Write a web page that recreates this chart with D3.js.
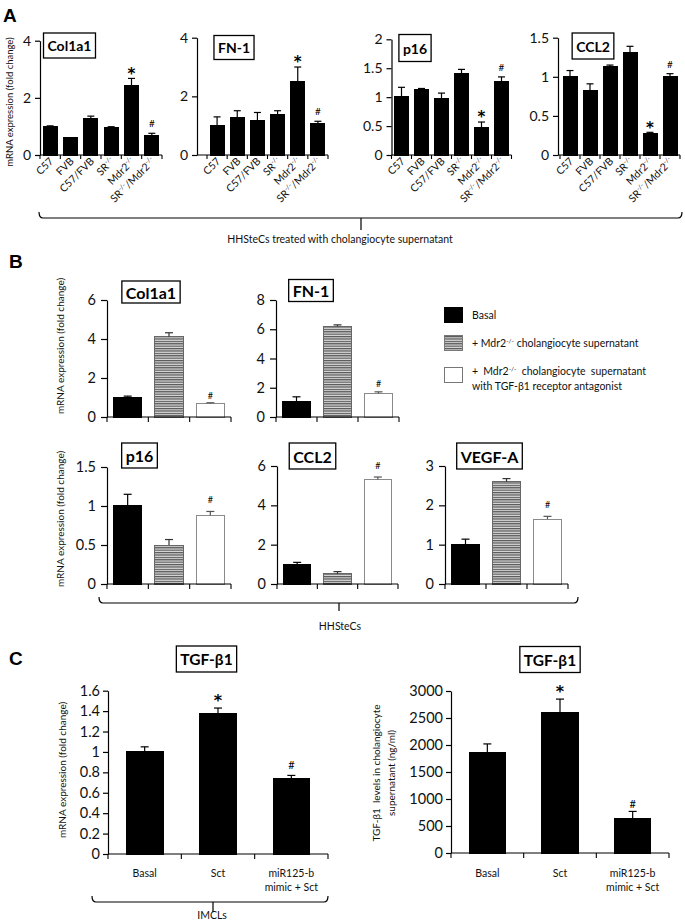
<!DOCTYPE html>
<html><head><meta charset="utf-8">
<script src="https://cdn.jsdelivr.net/npm/d3@7"></script>
<style>body{margin:0;background:#fff}svg{display:block}</style>
</head><body>
<svg id="c" width="685" height="922"></svg>
<script>
// ===== DATA =====
// Panel A: HHSteCs treated with cholangiocyte supernatant
const strainsA = ["C57","FVB","C57/FVB","SR-/-","Mdr2-/-","SR-/-/Mdr2-/-"];
const marksA   = ["","","","","*","#"];
const col1a1A    = [0.99, 0.60, 1.28, 0.95, 2.42, 0.67];
const col1a1AErr = [0.03, 0.01, 0.08, 0.04, 0.26, 0.09];
const fn1A       = [1.00, 1.27, 1.17, 1.38, 2.52, 1.07];
const fn1AErr    = [0.30, 0.24, 0.28, 0.13, 0.48, 0.08];
const p16A       = [1.01, 1.13, 0.97, 1.41, 0.48, 1.27];
const p16AErr    = [0.16, 0.02, 0.10, 0.07, 0.09, 0.08];
const ccl2A      = [1.00, 0.82, 1.13, 1.31, 0.27, 1.00];
const ccl2AErr   = [0.08, 0.09, 0.02, 0.08, 0.02, 0.04];
const ticksCol1a1A = [0, 2, 4];
const ticksFn1A    = [0, 2, 4];
const ticksP16A    = [0, 0.5, 1, 1.5, 2];
const ticksCcl2A   = [0, 0.5, 1, 1.5];

// Panel B: HHSteCs
const treatmentsB = ["Basal", "+ Mdr2-/- cholangiocyte supernatant", "+ Mdr2-/- cholangiocyte supernatant with TGF-β1 receptor antagonist"];
const marksB   = ["","","#"];
const col1a1B    = [1.00, 4.12, 0.71];
const col1a1BErr = [0.07, 0.20, 0.02];
const fn1B       = [1.05, 6.20, 1.60];
const fn1BErr    = [0.33, 0.10, 0.12];
const p16B       = [1.01, 0.50, 0.88];
const p16BErr    = [0.14, 0.07, 0.05];
const ccl2B      = [1.00, 0.52, 5.31];
const ccl2BErr   = [0.10, 0.11, 0.13];
const vegfaB     = [1.00, 2.60, 1.65];
const vegfaBErr  = [0.14, 0.08, 0.07];
const ticksCol1a1B = [0, 2, 4, 6];
const ticksFn1B    = [0, 2, 4, 6, 8];
const ticksP16B    = [0, 0.5, 1, 1.5];
const ticksCcl2B   = [0, 2, 4, 6];
const ticksVegfaB  = [0, 1, 2, 3];

// Panel C: IMCLs, TGF-β1
const groupsC = ["Basal", "Sct", "miR125-b mimic + Sct"];
const groupLinesC = [["Basal"], ["Sct"], ["miR125-b", "mimic + Sct"]];
const marksC = ["", "*", "#"];
const tgfMrnaC    = [1.00, 1.38, 0.74];
const tgfMrnaCErr = [0.05, 0.05, 0.03];
const tgfLevelC    = [1870, 2610, 645];
const tgfLevelCErr = [150, 240, 125];
const ticksMrnaC  = [0, 0.2, 0.4, 0.6, 0.8, 1, 1.2, 1.4, 1.6];
const ticksLevelC = [0, 500, 1000, 1500, 2000, 2500, 3000];

// ===== DRAWING =====
const FONT = "Lato, 'Open Sans', sans-serif";
const svg = d3.select("#c");
const defs = svg.append("defs");
const pat = defs.append("pattern").attr("id","stripes").attr("patternUnits","userSpaceOnUse")
  .attr("width",4).attr("height",2.4);
pat.append("rect").attr("width",4).attr("height",2.4).attr("fill","#dcdcdc");
pat.append("rect").attr("width",4).attr("height",1.2).attr("fill","#555");

function supText(sel, str, size){
  const parts = str.split(/(-\/-)/).filter(s => s !== "");
  let shifted = false;
  parts.forEach(p => {
    if (p === "-/-") {
      sel.append("tspan").attr("dy", -size*0.4).attr("font-size", size*0.62).text(p);
      shifted = true;
    } else {
      const t = sel.append("tspan").attr("font-size", size).text(p);
      if (shifted) { t.attr("dy", size*0.4); shifted = false; }
    }
  });
}

function titleBox(label, cx, cy, fs, h){
  const g = svg.append("g");
  const t = g.append("text").attr("x",cx).attr("y",cy).attr("text-anchor","middle")
    .attr("dominant-baseline","central").attr("font-family",FONT).attr("font-weight","bold")
    .attr("font-size",fs).attr("fill","#000").text(label);
  const w = t.node().getComputedTextLength() + 8;
  g.insert("rect","text").attr("x",cx-w/2).attr("y",cy-h/2).attr("width",w).attr("height",h)
    .attr("fill","#fff").attr("stroke","#000").attr("stroke-width",1.3);
}

function drawChart(o){
  const g = svg.append("g");
  const y = d3.scaleLinear().domain([0,o.ymax]).range([o.y0,o.y1]);
  const x = d3.scaleBand().domain(o.cats).range(o.xr).paddingInner(o.pad).paddingOuter(o.pad/2);
  const step = x.step();
  g.selectAll("rect.bar").data(o.vals).join("rect").attr("class","bar")
    .attr("x",(d,i)=>x(o.cats[i])).attr("width",x.bandwidth())
    .attr("y",d=>y(d)).attr("height",d=>o.y0-y(d))
    .attr("fill",(d,i)=>o.fills[i]).attr("stroke",(d,i)=>o.strokes[i]).attr("stroke-width",1)
    .attr("shape-rendering","crispEdges");
  const cw = o.capW;
  o.vals.forEach((v,i)=>{
    const cx = x(o.cats[i]) + x.bandwidth()/2;
    const col = o.errCol ? o.errCol[i] : "#000";
    g.append("line").attr("x1",cx).attr("x2",cx).attr("y1",y(v)).attr("y2",y(v+o.errs[i])).attr("stroke",col).attr("stroke-width",1.2);
    g.append("line").attr("x1",cx-cw/2).attr("x2",cx+cw/2).attr("y1",y(v+o.errs[i])).attr("y2",y(v+o.errs[i])).attr("stroke",col).attr("stroke-width",1.2);
    const m = o.marks[i];
    if (m) {
      const top = y(v+o.errs[i]);
      const fs = m === "*" ? o.starFs : o.hashFs;
      const yy = m === "*" ? top - o.starGap + fs*0.12 : top - o.hashGap;
      g.append("text").attr("x",cx).attr("y",yy).attr("text-anchor","middle")
        .attr("font-family", m==="*" ? "'DejaVu Sans', sans-serif" : FONT)
        .attr("font-weight", m==="*"?"bold":"normal").attr("fill","#000")
        .attr("font-size",fs).text(m);
    }
  });
  const ya = d3.axisLeft(y).tickValues(o.ticks).tickSize(o.tickLen).tickSizeOuter(0).tickPadding(o.tickPad)
    .tickFormat(d => String(d));
  const yg = g.append("g").attr("transform",`translate(${o.ax},0)`).call(ya);
  yg.select(".domain").attr("stroke","#000").attr("stroke-width",1.2);
  yg.selectAll(".tick line").attr("stroke","#000").attr("stroke-width",1.2);
  yg.selectAll(".tick text").attr("font-family",FONT).attr("font-size",o.tickFs).attr("fill","#111");
  g.append("line").attr("x1",o.ax).attr("x2",o.xr[1]).attr("y1",o.y0).attr("y2",o.y0)
    .attr("stroke","#000").attr("stroke-width",1.2);
  const bounds = o.cats.map(c => x(c) - step*o.pad/2).concat([o.xr[1]]);
  g.selectAll("line.xt").data(bounds).join("line").attr("class","xt")
    .attr("x1",d=>d).attr("x2",d=>d).attr("y1",o.y0).attr("y2",o.y0+o.xTick)
    .attr("stroke","#000").attr("stroke-width",1.1);
  if (o.rotLabels) {
    o.cats.forEach((c,i)=>{
      const cx = x(c) + x.bandwidth()/2;
      const t = g.append("text").attr("transform",`translate(${cx+4},${o.y0+7}) rotate(-45)`)
        .attr("text-anchor","end").attr("font-family",FONT).attr("fill","#111");
      supText(t, c, o.labFs);
    });
  }
  if (o.lines) {
    o.cats.forEach((c,i)=>{
      const cx = x(c) + x.bandwidth()/2;
      o.lines[i].forEach((ln,j)=>{
        g.append("text").attr("x",cx).attr("y",o.labY + j*14).attr("text-anchor","middle")
          .attr("font-family",FONT).attr("font-size",o.labFs).attr("fill","#111").text(ln);
      });
    });
  }
  return {x,y};
}

function yTitle(lines, xb, yc, fs, gap){
  lines.forEach((ln,j)=>{
    svg.append("text").attr("transform",`translate(${xb + j*gap},${yc}) rotate(-90)`)
      .attr("text-anchor","middle").attr("font-family",FONT).attr("font-size",fs).attr("fill","#111")
      .attr("xml:space","preserve").text(ln);
  });
}

function brace(x0,x1,y,xc,tick){
  svg.append("path").attr("d",
    `M${x0},${y-6} Q${x0},${y} ${x0+4},${y} L${x1-4},${y} Q${x1},${y} ${x1},${y-6} M${xc},${y} L${xc},${y+tick}`)
    .attr("fill","none").attr("stroke","#000").attr("stroke-width",1.2);
}

function panelLetter(l,x,y){
  svg.append("text").attr("x",x).attr("y",y).attr("font-family","'Liberation Sans', Arial, sans-serif")
    .attr("font-weight","bold").attr("font-size",19).text(l);
}

// ---------- Panel A ----------
panelLetter("A",3,22);
yTitle(["mRNA expression (fold change)"],13,102,9.5,0);
const blackA = strainsA.map(()=> "#000");
const baseA = {cats:strainsA, marks:marksA, fills:blackA, strokes:blackA, pad:0.3, y0:155,
  tickLen:5, tickPad:4, tickFs:14, xTick:4, rotLabels:true, labFs:10.5, capW:7,
  starFs:15, hashFs:10, starGap:1.5, hashGap:6};
drawChart({...baseA, vals:col1a1A, errs:col1a1AErr, ymax:4, y1:40.7, ticks:ticksCol1a1A, ax:40, xr:[40,162]});
drawChart({...baseA, vals:fn1A, errs:fn1AErr, ymax:4, y1:37.7, ticks:ticksFn1A, ax:197, xr:[207,328]});
drawChart({...baseA, vals:p16A, errs:p16AErr, ymax:2, y1:39.3, ticks:ticksP16A, ax:391.5, xr:[391.5,511.5]});
drawChart({...baseA, vals:ccl2A, errs:ccl2AErr, ymax:1.5, y1:37.7, ticks:ticksCcl2A, ax:558, xr:[560,680]});
titleBox("Col1a1",69.5,45.5,14,25);
titleBox("FN-1",234,47.5,14,24);
titleBox("p16",415,48,14,27);
titleBox("CCL2",593,46,14,26);
brace(39,682,218,361,12);
svg.append("text").attr("x",340).attr("y",243).attr("text-anchor","middle").attr("font-family",FONT)
  .attr("font-size",10.5).attr("fill","#111").text("HHSteCs treated with cholangiocyte supernatant");

// ---------- Panel B ----------
panelLetter("B",9,268);
yTitle(["mRNA expression (fold change)"],64,346,10,0);
yTitle(["mRNA expression (fold change)"],64,519,10,0);
const fillsB = ["#000","url(#stripes)","#fff"];
const strokesB = ["#000","#666","#8a8a8a"];
const baseB = {cats:treatmentsB, marks:marksB, fills:fillsB, strokes:strokesB, pad:0.32,
  tickLen:6, tickPad:5, tickFs:14.5, xTick:5, capW:8, errCol:["#000","#333","#555"],
  starFs:16, hashFs:9, starGap:2, hashGap:8};
drawChart({...baseB, vals:col1a1B, errs:col1a1BErr, ymax:6, y0:417, y1:300, ticks:ticksCol1a1B, ax:107, xr:[107,231], hashGap:4});
drawChart({...baseB, vals:fn1B, errs:fn1BErr, ymax:8, y0:417, y1:300, ticks:ticksFn1B, ax:276, xr:[276,399], hashGap:5});
drawChart({...baseB, vals:p16B, errs:p16BErr, ymax:1.5, y0:584, y1:467, ticks:ticksP16B, ax:107, xr:[107,231]});
drawChart({...baseB, vals:ccl2B, errs:ccl2BErr, ymax:6, y0:584, y1:466, ticks:ticksCcl2B, ax:277, xr:[277,398]});
drawChart({...baseB, vals:vegfaB, errs:vegfaBErr, ymax:3, y0:584, y1:466, ticks:ticksVegfaB, ax:445, xr:[445,568]});
titleBox("Col1a1",151,292,16,22);
titleBox("FN-1",311,290.5,16,22);
titleBox("p16",139.5,455.5,16,25);
titleBox("CCL2",312.5,456,16,26);
titleBox("VEGF-A",489.5,456,16,26);
const legY = [307,335,367];
treatmentsB.forEach((t,i)=>{
  svg.append("rect").attr("x",444).attr("y",legY[i]).attr("width",18).attr("height",15)
    .attr("fill",fillsB[i]).attr("stroke",i===0?"#000":"#777").attr("stroke-width",1)
    .attr("shape-rendering","crispEdges");
});
{
  const t0 = svg.append("text").attr("x",472).attr("y",319).attr("font-family",FONT).attr("fill","#111");
  supText(t0, treatmentsB[0], 10.5);
  const t1 = svg.append("text").attr("x",472).attr("y",347).attr("font-family",FONT).attr("fill","#111");
  supText(t1, treatmentsB[1], 10.5);
  const split = treatmentsB[2].indexOf(" with ");
  const t2 = svg.append("text").attr("x",472).attr("y",375).attr("font-family",FONT).attr("fill","#111").attr("word-spacing",2.5);
  supText(t2, treatmentsB[2].slice(0,split), 10.5);
  const t3 = svg.append("text").attr("x",472).attr("y",390).attr("font-family",FONT).attr("fill","#111");
  supText(t3, treatmentsB[2].slice(split+1), 10.5);
}
brace(99,578,603,339,8);
svg.append("text").attr("x",340).attr("y",630).attr("text-anchor","middle").attr("font-family",FONT)
  .attr("font-size",10.5).attr("fill","#111").text("HHSteCs");

// ---------- Panel C ----------
panelLetter("C",9,665);
const blackC = groupsC.map(()=> "#000");
const baseC = {cats:groupsC, marks:marksC, fills:blackC, strokes:blackC, pad:0.5,
  tickLen:5, tickPad:3, tickFs:14.5, xTick:5, capW:8, lines:groupLinesC, labY:877, labFs:10.5,
  starFs:16, hashFs:11, starGap:4, hashGap:6};
drawChart({...baseC, vals:tgfMrnaC, errs:tgfMrnaCErr, ymax:1.6, y0:854, y1:690.7, ticks:ticksMrnaC, ax:108, xr:[108,328]});
drawChart({...baseC, vals:tgfLevelC, errs:tgfLevelCErr, ymax:3000, y0:853, y1:691, ticks:ticksLevelC, ax:451, xr:[451,669], hashGap:3});
titleBox("TGF-β1",206.5,659,15.5,26);
titleBox("TGF-β1",550,659.5,15.5,26);
yTitle(["mRNA expression (fold change)"],66,770,10,0);
yTitle(["TGF-β1  levels in cholangiocyte","supernatant (ng/ml)"],380,773,10,15);
brace(92,328,902,213,10);
svg.append("text").attr("x",212).attr("y",919).attr("text-anchor","middle").attr("font-family",FONT)
  .attr("font-size",10.5).attr("fill","#111").text("IMCLs");
</script>
</body></html>
